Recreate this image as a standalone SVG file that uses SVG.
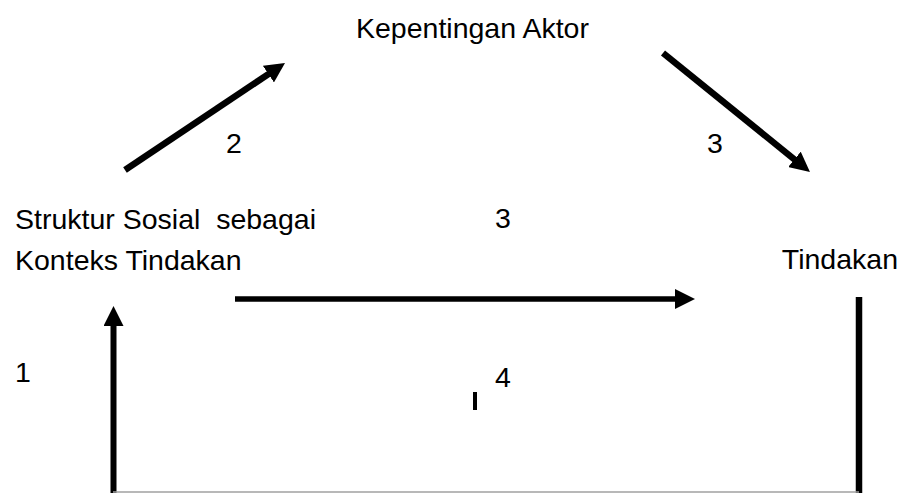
<svg xmlns="http://www.w3.org/2000/svg" width="907" height="493" viewBox="0 0 907 493">
<style>
text{font-family:"Liberation Sans",Arial,sans-serif;font-size:28.5px;fill:#000;white-space:pre}
.arr{stroke:#000;fill:none;stroke-linecap:butt}
</style>
<defs>
<marker id="ah" markerUnits="userSpaceOnUse" viewBox="0 0 20 20" markerWidth="20" markerHeight="20" refX="10" refY="10" orient="auto">
<path d="M0,0 L20,10 L0,20 z" fill="#000"/>
</marker>
</defs>
<rect width="907" height="493" fill="#fff"/>
<g id="node-kepentingan"><text x="356" y="38">Kepentingan Aktor</text></g>
<g id="node-struktur"><text x="15" y="229" xml:space="preserve">Struktur Sosial  sebagai</text><text x="15" y="270">Konteks Tindakan</text></g>
<g id="node-tindakan"><text x="898" y="269" text-anchor="end">Tindakan</text></g>
<g id="labels">
<text x="226" y="153">2</text>
<text x="707" y="153">3</text>
<text x="495" y="228">3</text>
<text x="15" y="382">1</text>
<text x="495" y="387">4</text>
</g>
<g id="connectors">
<line class="arr" x1="125" y1="170" x2="276.7" y2="68.6" stroke-width="6.5" marker-end="url(#ah)"/>
<line class="arr" x1="663" y1="53" x2="802.2" y2="165.7" stroke-width="6.5" marker-end="url(#ah)"/>
<line class="arr" x1="235" y1="299" x2="685" y2="299" stroke-width="5.5" marker-end="url(#ah)"/>
<line class="arr" x1="113.5" y1="493" x2="113.5" y2="316" stroke-width="6" marker-end="url(#ah)"/>
<line class="arr" x1="859" y1="297" x2="859" y2="493" stroke-width="6.5"/>
<line x1="113" y1="492" x2="859" y2="492" stroke="#a0a0a0" stroke-width="1.5"/>
<rect x="473" y="392" width="4" height="18" fill="#000"/>
</g>
</svg>
